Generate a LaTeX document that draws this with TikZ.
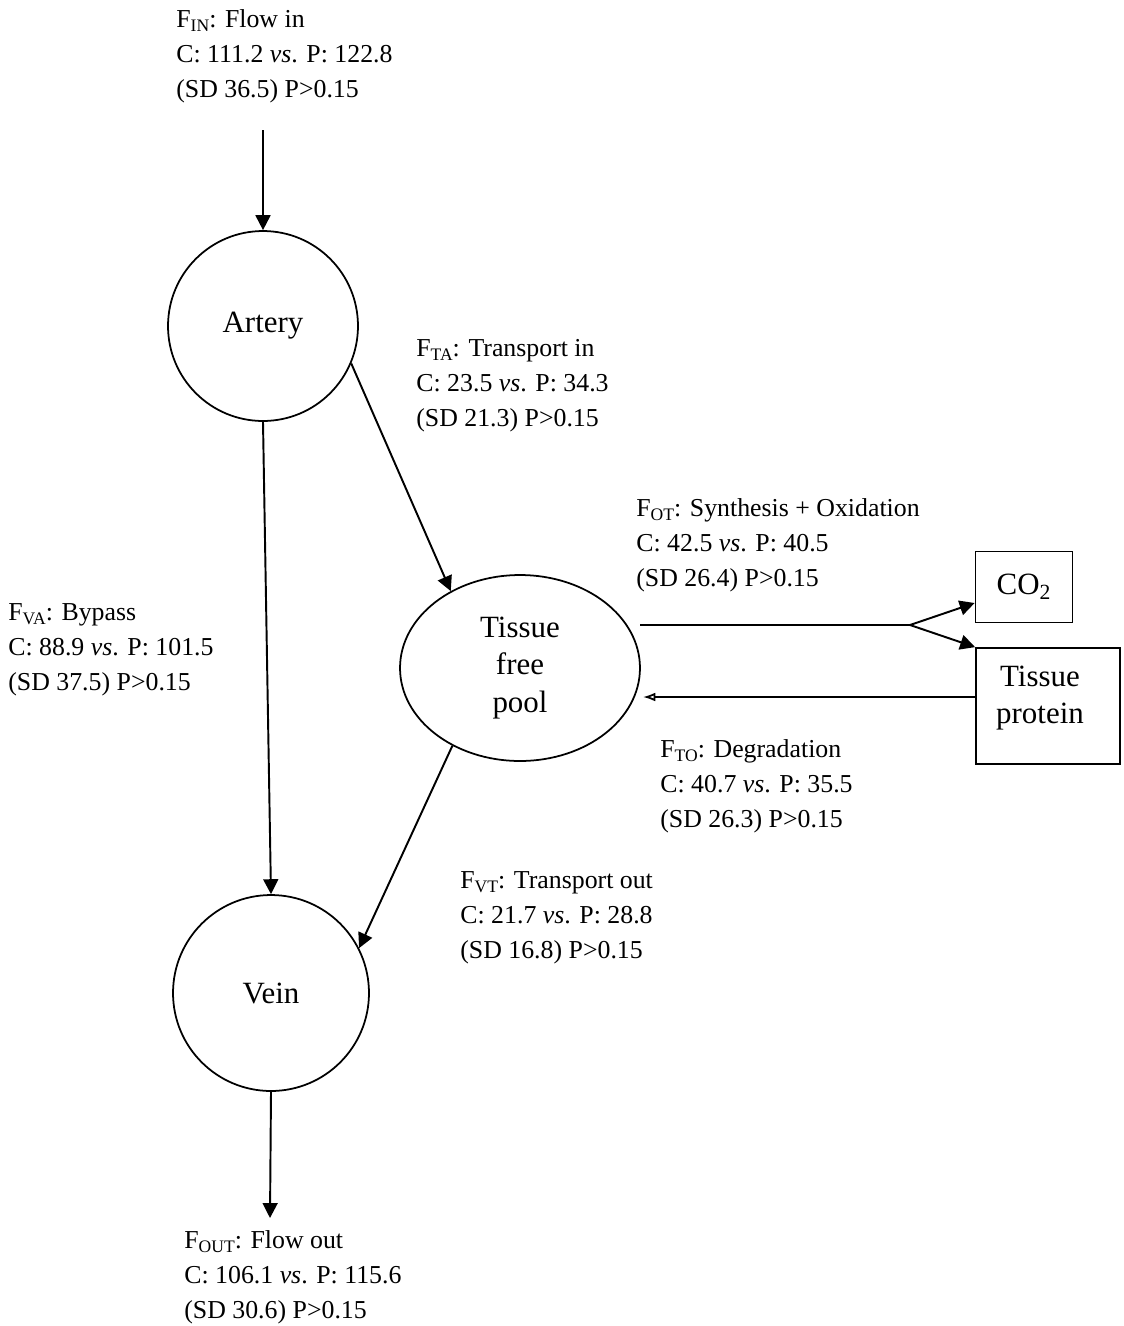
\documentclass[tikz,border=0pt]{standalone}
\usepackage{fontspec}
\setmainfont{Liberation Serif}
\usetikzlibrary{arrows.meta,shapes.geometric}
\newcommand{\fsub}[1]{\raisebox{-0.35ex}{\fontsize{10pt}{10pt}\selectfont #1}}
\begin{document}
\begin{tikzpicture}[x=0.02cm,y=-0.02cm,
  txt/.style={font=\fontsize{17.6pt}{21.2pt}\selectfont},
  lbl/.style={anchor=north west,align=left,inner sep=0pt,font=\fontsize{14.7pt}{19.9pt}\selectfont},
  ring/.style={txt,draw,line width=1pt,circle,inner sep=0pt},
  boxnode/.style={txt,draw,line width=1pt,rectangle,inner sep=0pt},
  flow/.style={line width=1.1pt,-{Triangle[length=8.5pt,width=8.5pt]}},
  thinflow/.style={line width=1pt,-{Latex[open,length=7pt,width=5pt]}}]
\useasboundingbox (0,0) rectangle (1124,1326);

% main compartments
\node[ring,minimum size=3.8cm] (artery) at (263,326) {Artery};
\node[ring,minimum size=3.92cm] (vein) at (271,993) {Vein};
\node[txt,draw,line width=1pt,ellipse,inner sep=0pt,minimum width=4.8cm,minimum height=3.72cm,align=center] (tissue) at (520,668) {Tissue\\free\\pool};
\node[boxnode,minimum width=1.94cm,minimum height=1.42cm] (co2) at (1024,587) {CO\textsubscript{2}};
\node[boxnode,minimum width=2.88cm,minimum height=2.32cm,align=center] (protein) at (1048,706) {};
\node[txt,align=center,inner sep=0pt] (proteintxt) at (1040,698) {Tissue\\protein};

% free ends
\coordinate (inflow) at (263,130);
\coordinate (outflow) at (270,1218);
\coordinate (synstart) at (640,625);
\coordinate (split) at (910,625);
\coordinate (degend) at (643,697);

% connectors
\draw[flow] (inflow) -- (artery.north);
\draw[flow] (artery.south) -- (vein.north);
\draw[flow] (artery.-23) -- (tissue.132);
\draw[flow] (tissue.229) -- (vein.27);
\draw[flow] (vein.south) -- (outflow);
\draw[line width=1.1pt] (synstart) -- (split);
\draw[flow] (split) -- (co2.west |- 0,603);
\draw[flow] (split) -- (protein.north west);
\draw[thinflow] (degend -| protein.west) -- (degend);

% labels
\node[lbl] (lin) at (176,9) {F\fsub{IN}: Flow in\\C: 111.2 \textit{vs}. P: 122.8\\(SD 36.5) P>0.15};
\node[lbl] (lta) at (416,339) {F\fsub{TA}: Transport in\\C: 23.5 \textit{vs}. P: 34.3\\(SD 21.3) P>0.15};
\node[lbl] (lot) at (636,498) {F\fsub{OT}: Synthesis + Oxidation\\C: 42.5 \textit{vs}. P: 40.5\\(SD 26.4) P>0.15};
\node[lbl] (lva) at (8,603) {F\fsub{VA}: Bypass\\C: 88.9 \textit{vs}. P: 101.5\\(SD 37.5) P>0.15};
\node[lbl] (lto) at (660,739) {F\fsub{TO}: Degradation\\C: 40.7 \textit{vs}. P: 35.5\\(SD 26.3) P>0.15};
\node[lbl] (lvt) at (460,871) {F\fsub{VT}: Transport out\\C: 21.7 \textit{vs}. P: 28.8\\(SD 16.8) P>0.15};
\node[lbl] (lout) at (184,1230) {F\fsub{OUT}: Flow out\\C: 106.1 \textit{vs}. P: 115.6\\(SD 30.6) P>0.15};
\end{tikzpicture}
\end{document}
